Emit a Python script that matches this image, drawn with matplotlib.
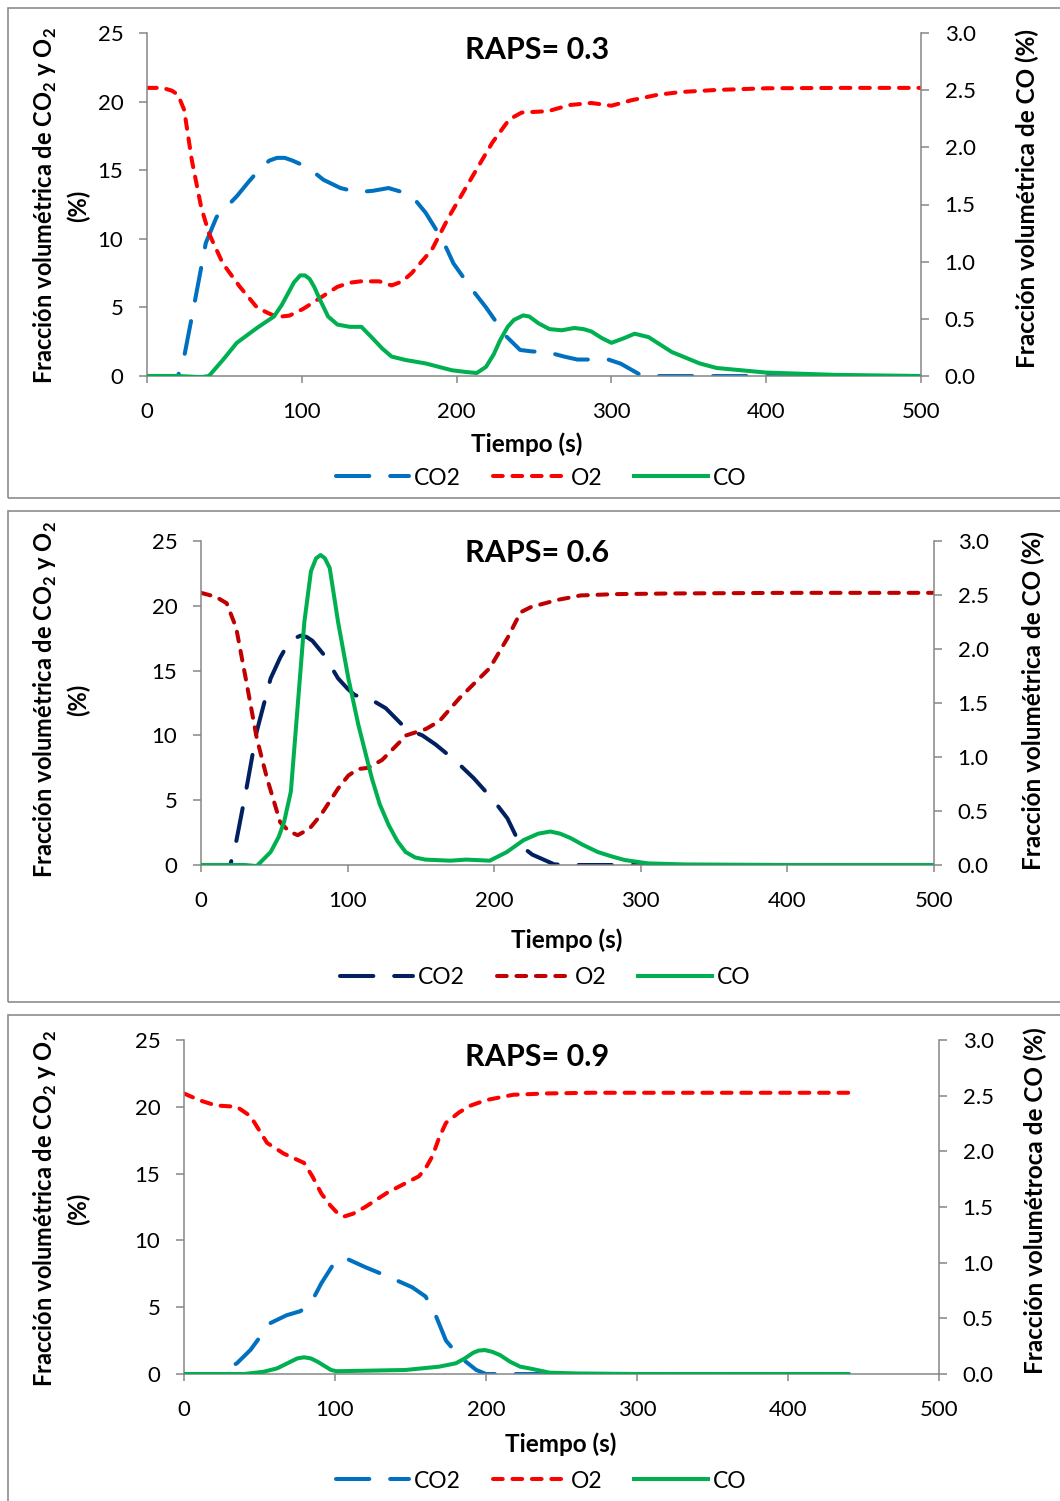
import matplotlib
matplotlib.use('Agg')
import matplotlib.pyplot as plt
from matplotlib.patches import Rectangle

plt.rcParams['font.family'] = ['Lato', 'DejaVu Sans']
plt.rcParams['lines.scale_dashes'] = False
plt.rcParams['mathtext.fontset'] = 'custom'
plt.rcParams['mathtext.rm'] = 'Lato:bold'
plt.rcParams['mathtext.bf'] = 'Lato:bold'

# ---- RAPS = 0.3 ----
t_co2_1 = [0, 20, 24, 31, 38, 45, 52, 58, 66, 73, 79, 84, 89, 94, 104, 114, 125, 136, 146, 156, 165, 172, 180, 191,
           198, 210, 219, 232, 241, 248, 260, 270, 278, 290, 298, 306, 313, 320, 330, 500]
co2_1 = [0, 0, 1.4, 5.5, 9.7, 11.6, 12.4, 13.1, 14.2, 15.1, 15.7, 15.9, 15.9, 15.7, 15.2, 14.3, 13.7, 13.4, 13.5, 13.7, 13.4, 13.0, 11.9, 9.9,
         8.2, 6.3, 5.0, 2.9, 1.9, 1.8, 1.7, 1.4, 1.2, 1.2, 1.2, 0.9, 0.45, 0.0, 0.0, 0.0]
t_o2_1 = [0, 10, 16, 20, 24, 29, 35, 40, 49, 60, 71, 78, 84, 92, 101, 112, 123, 131, 138, 150, 158, 165, 171, 184, 195,
          210, 223, 234, 242, 250, 259, 273, 287, 300, 313, 330, 345, 368, 400, 450, 500]
o2_1 = [21.0, 21.0, 20.8, 20.5, 19.4, 15.7, 12.3, 10.4, 8.2, 6.5, 5.0, 4.6, 4.3, 4.4, 4.9, 5.7, 6.5, 6.8, 6.9, 6.9, 6.6, 6.9, 7.5, 9.2, 11.6,
        14.5, 17.0, 18.7, 19.2, 19.25, 19.3, 19.75, 19.9, 19.7, 20.1, 20.5, 20.7, 20.85, 20.97, 21.0, 21.0]
t_co_1 = [0, 20, 35, 40, 49, 58, 71, 82, 87, 91, 95, 99, 102, 105, 108, 112, 117, 123, 131, 138.5, 145, 152, 158, 167, 180, 197, 206, 213,
          219, 224, 228, 233, 237, 243, 247, 253, 260, 268, 276, 282, 287, 294, 300, 308, 315, 324, 339, 357, 368, 400, 444, 500]
co_1 = [0, 0, -0.01, 0.0, 0.14, 0.29, 0.42, 0.52, 0.62, 0.72, 0.82, 0.88, 0.88, 0.85, 0.78, 0.66, 0.52, 0.45, 0.43, 0.43, 0.34, 0.24, 0.17, 0.14, 0.11, 0.05, 0.035, 0.026,
        0.08, 0.19, 0.31, 0.43, 0.49, 0.53, 0.52, 0.46, 0.41, 0.40, 0.42, 0.41, 0.39, 0.33, 0.29, 0.33, 0.37, 0.34, 0.21, 0.11, 0.07, 0.03, 0.01, 0.0]

# ---- RAPS = 0.6 ----
t_co2_2 = [0, 20, 24, 31, 38, 47.5, 54, 59, 64, 68, 72, 76, 84, 93.5, 100, 105, 114, 126, 140, 151, 160, 174, 186, 199.5,
           209, 218, 226, 234, 241, 250, 500]
co2_2 = [0, 0, 1.8, 5.9, 10.3, 14.4, 16.0, 17.0, 17.5, 17.7, 17.6, 17.3, 16.2, 14.4, 13.6, 13.1, 12.9, 12.1, 10.5, 10.0, 9.3, 8.0, 6.7, 5.0,
         3.6, 1.5, 0.8, 0.4, 0.05, 0.0, 0.0]
t_o2_2 = [0, 10, 17.5, 24, 31, 38, 45, 54, 60, 66, 74, 82, 93.5, 100.5, 107, 114, 123.5, 140, 153.5, 162.6, 176.5,
          197, 209, 218, 225, 243, 259, 282, 320, 400, 500]
o2_2 = [21.0, 20.7, 20.2, 18.3, 14.1, 9.8, 6.7, 3.3, 2.6, 2.3, 2.8, 3.9, 5.9, 6.9, 7.4, 7.5, 8.1, 10.0, 10.5, 11.1, 12.9,
        15.2, 17.5, 19.5, 19.9, 20.45, 20.8, 20.9, 20.95, 21.0, 21.0]
t_co_2 = [0, 30, 38, 47.5, 53, 56.7, 61.3, 66, 70.5, 75, 78.5, 81.6, 84.5, 87.8, 93.5, 100.5, 107.3, 116.6, 122, 128, 134, 139.6,
          146, 153, 170, 181, 197, 208.6, 220, 230, 238.3, 245, 252, 260, 270.7, 280, 289, 305, 330, 400, 500]
co_2 = [0, 0, -0.01, 0.12, 0.26, 0.40, 0.68, 1.48, 2.25, 2.72, 2.84, 2.87, 2.84, 2.75, 2.25, 1.73, 1.30, 0.80, 0.56, 0.37, 0.22, 0.12,
        0.07, 0.05, 0.04, 0.05, 0.04, 0.12, 0.23, 0.29, 0.31, 0.29, 0.25, 0.19, 0.12, 0.08, 0.046, 0.015, 0.005, 0.0, 0.0]

# ---- RAPS = 0.9 ----
t_co2_3 = [0, 22, 35, 44, 57, 68, 77, 84, 91, 100, 106.4, 120, 135, 151, 160, 167, 173.5, 182.4, 193.6, 200, 210, 440]
co2_3 = [0, 0, 0.8, 1.8, 3.8, 4.4, 4.7, 5.3, 6.8, 8.4, 8.7, 8.0, 7.3, 6.5, 5.8, 4.3, 2.5, 1.3, 0.3, 0.0, 0.0, 0.0]
t_o2_3 = [0, 10, 21, 35, 44, 55, 66, 79.5, 85, 91, 97, 102, 106.4, 112, 120, 135, 155.6, 160, 164.5, 169, 173.5, 182.4,
          190, 200, 218, 240, 270, 350, 440]
o2_3 = [21.0, 20.5, 20.1, 20.0, 19.3, 17.3, 16.5, 15.8, 14.8, 13.5, 12.6, 12.0, 11.8, 12.0, 12.5, 13.6, 14.8, 15.4, 16.3, 17.7, 18.8, 19.6,
        20.1, 20.5, 20.9, 21.0, 21.05, 21.05, 21.05]
t_co_3 = [0, 40, 52.6, 61.6, 70.5, 75, 79.5, 84, 88.5, 97.4, 101, 122, 146.6, 169, 180, 186, 191.4, 195, 199.2, 204, 209.3, 216, 222.6,
          229, 242, 260, 300, 440]
co_3 = [0, 0, 0.02, 0.05, 0.11, 0.14, 0.15, 0.14, 0.11, 0.036, 0.025, 0.03, 0.036, 0.066, 0.096, 0.14, 0.19, 0.21, 0.215, 0.2, 0.17, 0.11, 0.066,
        0.05, 0.012, 0.005, 0.0, 0.0]

titles = ['RAPS= 0.3', 'RAPS= 0.6', 'RAPS= 0.9']
right_labels = ['Fracción volumétrica de CO (%)', 'Fracción volumétrica de CO (%)', 'Fracción volumétroca de CO (%)']
left_label = 'Fracción volumétrica de CO$_2$ y O$_2$'
x_ticks = [0, 100, 200, 300, 400, 500]
y_ticks = [0, 5, 10, 15, 20, 25]
y2_ticks = [0.0, 0.5, 1.0, 1.5, 2.0, 2.5, 3.0]

W, H = 1060, 1501
fig = plt.figure(figsize=(W / 100, H / 100), dpi=100)
GRAY = '#868686'

def fx(x):
    return x / W

def fy(y):
    return 1 - y / H

panels = [
    dict(box=(147, 33, 921, 376), frame=(8, 498), co2=(t_co2_1, co2_1), o2=(t_o2_1, o2_1), co=(t_co_1, co_1),
         c_co2='#0070C0', c_o2='#FF0000', ylab_y=206, rlab=(1027, 198), title_y=50, xlab=(527, 444), leg=(541, 478)),
    dict(box=(201, 541, 934, 865), frame=(511, 1002), co2=(t_co2_2, co2_2), o2=(t_o2_2, o2_2), co=(t_co_2, co_2),
         c_co2='#002060', c_o2='#C00000', ylab_y=700, rlab=(1033, 701), title_y=553, xlab=(567, 940), leg=(545, 978)),
    dict(box=(184, 1040, 939, 1374), frame=(1015, 1510), co2=(t_co2_3, co2_3), o2=(t_o2_3, o2_3), co=(t_co_3, co_3),
         c_co2='#0070C0', c_o2='#FF0000', ylab_y=1209, rlab=(1035, 1201), title_y=1057, xlab=(561, 1444), leg=(541, 1481)),
]

for i, p in enumerate(panels):
    # frame around each chart
    top, bot = p['frame']
    fig.add_artist(Rectangle((fx(8), fy(bot)), fx(1080 - 8), (bot - top) / H, transform=fig.transFigure,
                             fill=False, ec='#8c8c8c', lw=1.2))

    l, t, r, b = p['box']
    ax = fig.add_axes([fx(l), fy(b), (r - l) / W, (b - t) / H])
    ax2 = ax.twinx()

    h1, = ax.plot(*p['co2'], color=p['c_co2'], lw=2.9, ls=(0, (24, 15)), dash_capstyle='round',
                  dash_joinstyle='round', label='CO2')
    h2, = ax.plot(*p['o2'], color=p['c_o2'], lw=2.9, ls=(0, (7, 7)), dash_capstyle='round',
                  dash_joinstyle='round', label='O2')
    h3, = ax2.plot(*p['co'], color='#00B050', lw=2.9, solid_joinstyle='round', label='CO')

    ax.set_xlim(0, 500)
    ax.set_ylim(0, 25)
    ax2.set_ylim(0, 3.0)
    ax.set_xticks(x_ticks)
    ax.set_yticks(y_ticks)
    ax2.set_yticks(y2_ticks)
    ax2.set_yticklabels(['%.1f' % v for v in y2_ticks])

    for a in (ax, ax2):
        for s in a.spines.values():
            s.set_color(GRAY)
            s.set_linewidth(1.1)
        a.spines['top'].set_visible(False)
    ax.spines['right'].set_visible(False)
    ax2.spines['left'].set_visible(False)
    ax2.spines['bottom'].set_visible(False)
    ax.patch.set_visible(False)

    ax.tick_params(axis='y', direction='out', length=6, width=1.1, color=GRAY, labelsize=16, pad=11)
    ax.tick_params(axis='x', direction='out', length=5, width=1.1, color=GRAY, labelsize=16, pad=13.5)
    ax2.tick_params(axis='y', direction='out', length=6, width=1.1, color=GRAY, labelsize=16, pad=11)

    fig.text(fx(45), fy(p['ylab_y']), left_label, rotation=90, ha='center', va='center',
             fontsize=17, fontweight='bold')
    fig.text(fx(78), fy(p['ylab_y']), '(%)', rotation=90, ha='center', va='center',
             fontsize=17, fontweight='bold')
    fig.text(fx(p['rlab'][0]), fy(p['rlab'][1]), right_labels[i], rotation=90, ha='center', va='center',
             fontsize=17.5, fontweight='bold')
    fig.text(fx(537), fy(p['title_y']), titles[i], ha='center', va='center', fontsize=22, fontweight='bold')
    fig.text(fx(p['xlab'][0]), fy(p['xlab'][1]), 'Tiempo (s)', ha='center', va='center',
             fontsize=17.5, fontweight='bold')

    fig.legend([h1, h2, h3], ['CO2', 'O2', 'CO'], loc='center', bbox_to_anchor=(fx(p['leg'][0]), fy(p['leg'][1])),
               ncol=3, frameon=False, fontsize=16.5, handlelength=3.2, handletextpad=0.2, columnspacing=1.4)

fig.savefig('out.png', dpi=100, facecolor='white')
